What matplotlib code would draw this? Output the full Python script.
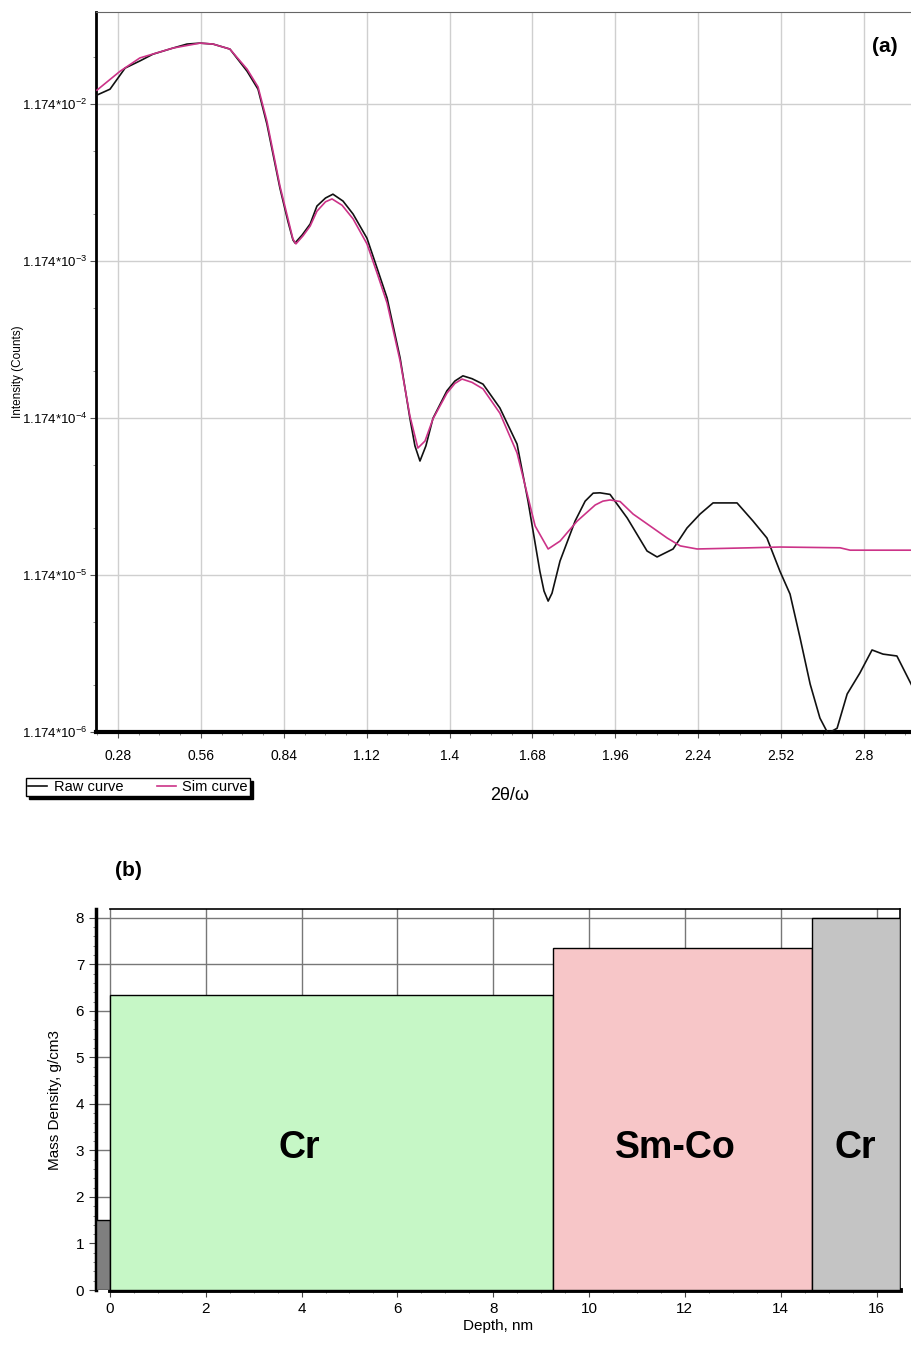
import matplotlib
matplotlib.use("Agg")
import matplotlib.pyplot as plt
from matplotlib.ticker import FixedLocator, MultipleLocator, NullFormatter

plt.rcParams["font.family"] = ["Liberation Sans Narrow", "Liberation Sans", "DejaVu Sans"]
plt.rcParams["mathtext.fontset"] = "custom"
plt.rcParams["mathtext.rm"] = "Liberation Sans"
plt.rcParams["mathtext.it"] = "Liberation Sans"

# ---- (a) reflectivity curves ----
raw_x = [0.209, 0.253, 0.304, 0.354, 0.398, 0.466, 0.513, 0.557, 0.601, 0.658,
         0.716, 0.753, 0.783, 0.827, 0.854, 0.871, 0.878, 0.902, 0.929, 0.952,
         0.981, 1.006, 1.040, 1.074, 1.121, 1.155, 1.189, 1.233, 1.266, 1.283,
         1.300, 1.320, 1.344, 1.391, 1.418, 1.445, 1.476, 1.513, 1.570, 1.628,
         1.665, 1.705, 1.719, 1.733, 1.746, 1.773, 1.824, 1.858, 1.885, 1.908,
         1.942, 2.000, 2.067, 2.101, 2.155, 2.202, 2.246, 2.290, 2.371, 2.425,
         2.472, 2.516, 2.550, 2.584, 2.618, 2.651, 2.678, 2.709, 2.743, 2.786,
         2.827, 2.864, 2.911, 2.962]
raw_y = [1.34e-2, 1.46e-2, 1.99e-2, 2.21e-2, 2.44e-2, 2.67e-2, 2.83e-2, 2.87e-2, 2.83e-2, 2.63e-2,
         1.90e-2, 1.46e-2, 8.76e-3, 3.42e-3, 2.10e-3, 1.60e-3, 1.53e-3, 1.72e-3, 2.02e-3, 2.63e-3,
         2.96e-3, 3.13e-3, 2.83e-3, 2.34e-3, 1.64e-3, 1.06e-3, 6.82e-4, 2.83e-4, 1.17e-4, 7.80e-5,
         6.25e-5, 7.80e-5, 1.17e-4, 1.75e-4, 2.02e-4, 2.18e-4, 2.09e-4, 1.93e-4, 1.36e-4, 8.01e-5,
         3.47e-5, 1.24e-5, 9.28e-6, 8.01e-6, 8.99e-6, 1.44e-5, 2.59e-5, 3.47e-5, 3.90e-5, 3.92e-5,
         3.83e-5, 2.71e-5, 1.67e-5, 1.53e-5, 1.72e-5, 2.34e-5, 2.87e-5, 3.38e-5, 3.38e-5, 2.59e-5,
         2.02e-5, 1.24e-5, 8.88e-6, 4.66e-6, 2.37e-6, 1.44e-6, 1.15e-6, 1.24e-6, 2.05e-6, 2.79e-6,
         3.91e-6, 3.68e-6, 3.58e-6, 2.31e-6]

sim_x = [0.209, 0.287, 0.354, 0.466, 0.557, 0.601, 0.658, 0.716, 0.753, 0.783,
         0.827, 0.871, 0.881, 0.905, 0.929, 0.952, 0.981, 1.003, 1.037, 1.074,
         1.121, 1.155, 1.189, 1.233, 1.266, 1.293, 1.317, 1.344, 1.391, 1.418,
         1.442, 1.476, 1.513, 1.570, 1.628, 1.689, 1.733, 1.773, 1.831, 1.892,
         1.918, 1.942, 1.976, 2.020, 2.087, 2.135, 2.179, 2.236, 2.415, 2.516,
         2.719, 2.753, 2.962]
sim_y = [1.44e-2, 1.90e-2, 2.31e-2, 2.67e-2, 2.87e-2, 2.83e-2, 2.63e-2, 1.96e-2, 1.51e-2, 9.15e-3,
         3.53e-3, 1.62e-3, 1.51e-3, 1.70e-3, 1.96e-3, 2.44e-3, 2.80e-3, 2.92e-3, 2.66e-3, 2.18e-3,
         1.51e-3, 9.85e-4, 6.33e-4, 2.71e-4, 1.21e-4, 7.56e-5, 8.38e-5, 1.16e-4, 1.69e-4, 1.95e-4,
         2.08e-4, 1.98e-4, 1.80e-4, 1.26e-4, 7.03e-5, 2.41e-5, 1.72e-5, 1.93e-5, 2.59e-5, 3.28e-5,
         3.47e-5, 3.53e-5, 3.45e-5, 2.87e-5, 2.34e-5, 2.02e-5, 1.80e-5, 1.72e-5, 1.75e-5, 1.77e-5,
         1.75e-5, 1.69e-5, 1.69e-5]

x_ticks = [0.28, 0.56, 0.84, 1.12, 1.4, 1.68, 1.96, 2.24, 2.52, 2.8]
x_tick_labels = ["0.28", "0.56", "0.84", "1.12", "1.4", "1.68", "1.96", "2.24", "2.52", "2.8"]
y_ticks = [1.174e-6, 1.174e-5, 1.174e-4, 1.174e-3, 1.174e-2]
y_tick_labels = [r"1.174*10$^{-6}$", r"1.174*10$^{-5}$", r"1.174*10$^{-4}$",
                 r"1.174*10$^{-3}$", r"1.174*10$^{-2}$"]

# ---- (b) density profile ----
layer_start = [-0.3, 0.0, 9.25, 14.65]
layer_width = [0.3, 9.25, 5.4, 1.85]
layer_density = [1.5, 6.35, 7.35, 8.0]
layer_names = ["Cr", "Sm-Co", "Cr"]
layer_colors = ["#7f7f7f", "#c6f7c6", "#f7c6c8", "#c4c4c4"]
name_x = [3.95, 11.8, 15.55]

W, H = 912, 1348
fig = plt.figure(figsize=(W / 100, H / 100), dpi=100)

ax1 = fig.add_axes([96 / W, 1 - 732 / H, (W - 96) / W, 720 / H])
ax1.set_yscale("log")
ax1.plot(raw_x, raw_y, color="#111111", lw=1.2, label="Raw curve", zorder=3)
ax1.plot(sim_x, sim_y, color="#cc3388", lw=1.2, label="Sim curve", zorder=4)
ax1.set_xlim(0.2057, 2.962)
ax1.set_ylim(1.174e-6, 4.53e-2)
ax1.xaxis.set_major_locator(FixedLocator(x_ticks))
ax1.set_xticklabels(x_tick_labels)
ax1.xaxis.set_minor_locator(MultipleLocator(0.07))
ax1.yaxis.set_major_locator(FixedLocator(y_ticks))
ax1.set_yticklabels(y_tick_labels)
minor_y = [b * m for b in y_ticks[:-1] for m in (2.0, 5.0)] + [1.174e-2 * 2]
ax1.yaxis.set_minor_locator(FixedLocator(minor_y))
ax1.yaxis.set_minor_formatter(NullFormatter())
ax1.grid(True, which="major", color="#cfcfcf", lw=1.0, zorder=0)
ax1.tick_params(axis="both", which="major", labelsize=10, length=4, color="#555555")
ax1.tick_params(axis="y", which="major", labelsize=9.5, pad=2)
ax1.tick_params(axis="both", which="minor", length=2, color="#777777")
ax1.tick_params(axis="x", pad=8)
ax1.spines["left"].set_linewidth(2)
ax1.spines["bottom"].set_linewidth(3)
ax1.spines["top"].set_color("#666666")
ax1.spines["right"].set_visible(False)
ax1.set_ylabel("Intensity (Counts)", fontsize=8.5)
ax1.yaxis.set_label_coords(-0.088, 0.5)
fig.text(885 / W, 1 - 47 / H, "(a)", fontsize=15, fontweight="bold",
         family=["Liberation Sans"], ha="center", va="center")
fig.text(510 / W, 1 - 795 / H, "2θ/ω", fontsize=13, family=["Liberation Sans", "DejaVu Sans"],
         ha="center", va="center")
leg = fig.legend(loc="upper left", bbox_to_anchor=(26 / W, 1 - 778 / H), ncol=2,
                 fontsize=10.5, frameon=True, fancybox=False, edgecolor="black",
                 shadow={"color": "black", "alpha": 1}, handlelength=1.3,
                 handletextpad=0.45, columnspacing=2.3, borderpad=0.15,
                 borderaxespad=0)
leg.get_frame().set_linewidth(1.0)

ax2 = fig.add_axes([96 / W, 1 - 1290 / H, (900 - 96) / W, (1290 - 909) / H])
ax2.bar(layer_start, layer_density, width=layer_width, align="edge",
        color=layer_colors, edgecolor="black", linewidth=1.0, zorder=3)
for xpos, name in zip(name_x, layer_names):
    ax2.text(xpos, 3.05, name, fontsize=27, fontweight="bold",
             family=["Liberation Sans"], ha="center", va="center", zorder=4)
ax2.set_xlim(-0.29, 16.49)
ax2.set_ylim(0, 8.19)
ax2.xaxis.set_major_locator(MultipleLocator(2))
ax2.xaxis.set_minor_locator(MultipleLocator(0.5))
ax2.yaxis.set_major_locator(MultipleLocator(1))
ax2.yaxis.set_minor_locator(MultipleLocator(0.2))
ax2.grid(True, which="major", color="#777777", lw=1.0, zorder=1)
ax2.set_axisbelow(True)
ax2.tick_params(axis="both", which="major", labelsize=11, length=5, color="#444444")
ax2.tick_params(axis="both", which="minor", length=2.5, color="#666666")
ax2.spines["left"].set_linewidth(2.5)
ax2.spines["bottom"].set_linewidth(3.5)
ax2.spines["bottom"].set_bounds(0, 16.49)
ax2.spines["top"].set_bounds(0, 16.49)
ax2.spines["top"].set_linewidth(1.2)
ax2.spines["right"].set_linewidth(1.2)
ax2.set_xlabel("Depth, nm", fontsize=11, labelpad=2)
ax2.set_ylabel("Mass Density, g/cm3", fontsize=11, labelpad=10)
fig.text(128 / W, 1 - 870 / H, "(b)", fontsize=15, fontweight="bold",
         family=["Liberation Sans"], ha="center", va="center")

fig.savefig("out.png", dpi=100)
